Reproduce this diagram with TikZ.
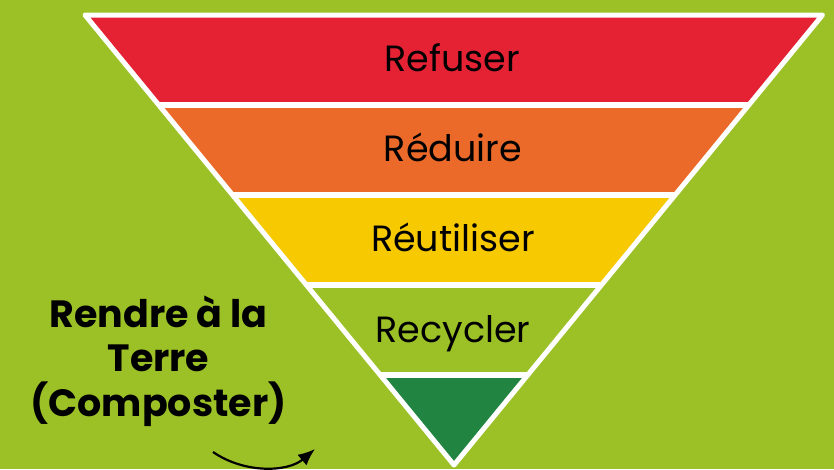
\documentclass[tikz,border=0pt]{standalone}
\usepackage{fontspec}
\setmainfont{Poppins}
\usetikzlibrary{calc,arrows.meta}
\definecolor{bg}{HTML}{9CC126}
\definecolor{cred}{HTML}{E52134}
\definecolor{corange}{HTML}{EC6A29}
\definecolor{cyellow}{HTML}{F6C900}
\definecolor{clgreen}{HTML}{9CC126}
\definecolor{cdgreen}{HTML}{218441}
\tikzset{
  bandtext/.style={anchor=base, font=\fontsize{36.5}{42}\selectfont, text=black, inner sep=0pt},
  sidetext/.style={anchor=base, font=\fontsize{38}{44}\selectfont\bfseries, text=black, inner sep=0pt},
  sepline/.style={white, line width=6pt},
  outline/.style={white, line width=5pt, line join=round},
  curvearrow/.style={black, line width=2.2pt, -{Latex[length=17pt,width=14pt]}}
}
\begin{document}
\begin{tikzpicture}[x=1pt,y=-1pt]
\fill[bg] (0,0) rectangle (834,469);
\useasboundingbox (0,0) rectangle (834,469);
\coordinate (A) at (85,15);
\coordinate (B) at (822.5,15);
\coordinate (C) at (454,465);
\foreach \t/\n in {0.2/1,0.4/2,0.6/3,0.8/4}{
  \coordinate (L\n) at ($(A)!\t!(C)$);
  \coordinate (R\n) at ($(B)!\t!(C)$);
}
\fill[cred] (A) -- (B) -- (R1) -- (L1) -- cycle;
\fill[corange] (L1) -- (R1) -- (R2) -- (L2) -- cycle;
\fill[cyellow] (L2) -- (R2) -- (R3) -- (L3) -- cycle;
\fill[clgreen] (L3) -- (R3) -- (R4) -- (L4) -- cycle;
\fill[cdgreen] (L4) -- (R4) -- (C) -- cycle;
\draw[sepline] (L1) -- (R1);
\draw[sepline] (L2) -- (R2);
\draw[sepline] (L3) -- (R3);
\draw[sepline] (L4) -- (R4);
\draw[outline] (A) -- (B) -- (C) -- cycle;
\node[bandtext] (t1) at (452,71) {Refuser};
\node[bandtext] (t2) at (453,161) {Réduire};
\node[bandtext] (t3) at (453,251.5) {Réutiliser};
\node[bandtext] (t4) at (453,342) {Recycler};
\node[sidetext] (s1) at (158.5,327) {Rendre à la};
\node[sidetext] (s2) at (158.5,371.5) {Terre};
\node[sidetext] (s3) at (158.5,416) {(Composter)};
\coordinate (as) at (213,452);
\coordinate (ae) at (315,449);
\draw[curvearrow] (as) .. controls (245,474) and (288,472) .. (ae);
\end{tikzpicture}
\end{document}
